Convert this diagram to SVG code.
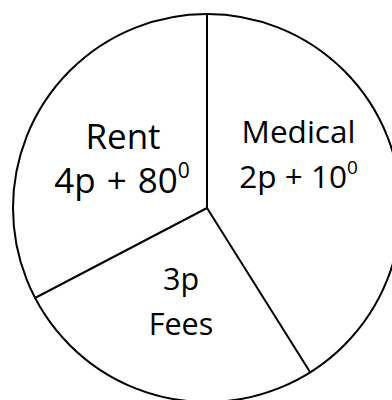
<svg xmlns="http://www.w3.org/2000/svg" width="392" height="400" viewBox="0 0 392 400">
<style>
.edge{stroke:#000;stroke-width:2;fill:none;stroke-linecap:round}
.lbl{font-family:"Open Sans","Liberation Sans",sans-serif;fill:#000;text-anchor:middle}
</style>
<rect width="392" height="400" fill="#fff"/>
<g id="pie">
<circle cx="207" cy="208" r="194" fill="#fff" stroke="#000" stroke-width="2"/>
</g>
<g id="connectors">
<line class="edge" x1="207" y1="208" x2="207" y2="14"/>
<line class="edge" x1="207" y1="208" x2="35" y2="298"/>
<line class="edge" x1="207" y1="208" x2="310" y2="372"/>
</g>
<g id="rent">
<text class="lbl" x="123" y="149" font-size="35">Rent</text>
<text class="lbl" x="122" y="193" font-size="35" word-spacing="2">4p + 80<tspan font-size="21" dy="-15">0</tspan></text>
</g>
<g id="medical">
<text class="lbl" x="298.5" y="143" font-size="31.5">Medical</text>
<text class="lbl" x="298.5" y="188" font-size="31.5">2p + 10<tspan font-size="19" dy="-14">0</tspan></text>
</g>
<g id="fees">
<text class="lbl" x="181" y="290" font-size="30.5">3p</text>
<text class="lbl" x="181" y="335" font-size="30.5">Fees</text>
</g>
</svg>
